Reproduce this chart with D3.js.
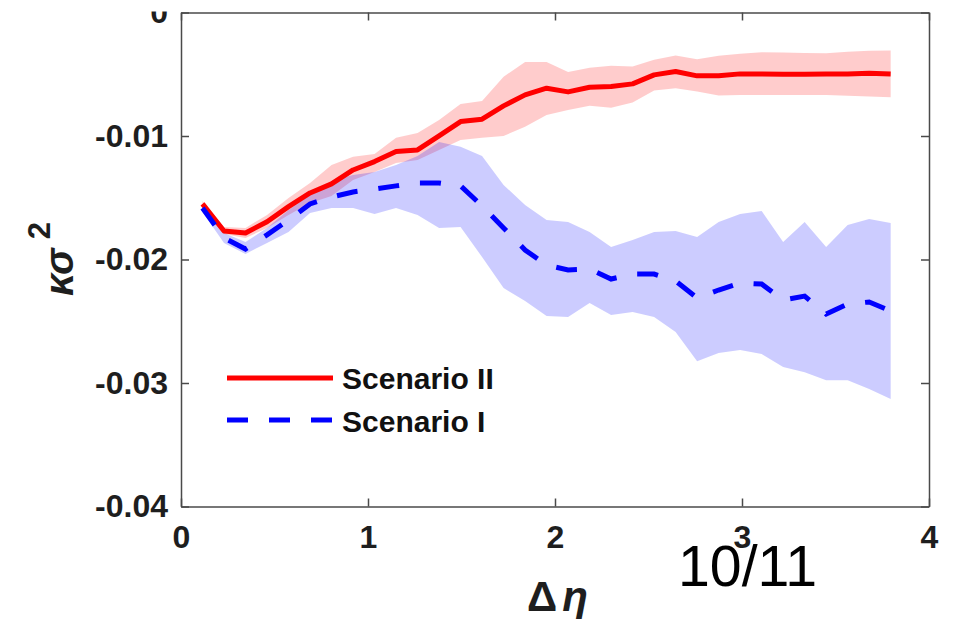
<!DOCTYPE html>
<html>
<head>
<meta charset="utf-8">
<script src="https://cdn.jsdelivr.net/npm/d3@7"></script>
<style>
  body { margin: 0; background: #fff; }
  svg { display: block; font-family: "Liberation Sans", Arial, sans-serif; }
</style>
</head>
<body>
<div id="chart"></div>
<script>
let w = 955;
let h = 619;

// delta eta values
const dEta = [0.115, 0.23, 0.345, 0.46, 0.575, 0.69, 0.805, 0.92, 1.035, 1.15, 1.265,
  1.38, 1.495, 1.61, 1.725, 1.84, 1.955, 2.07, 2.185, 2.3, 2.415, 2.53, 2.645,
  2.76, 2.875, 2.99, 3.105, 3.22, 3.335, 3.45, 3.565, 3.68, 3.795];

// Scenario II (red)
const s2Mean = [-0.01550, -0.01769, -0.01785, -0.01694, -0.01572, -0.01461, -0.01388, -0.01275,
  -0.01207, -0.01126, -0.01113, -0.00999, -0.00883, -0.00864, -0.00756, -0.00667, -0.00613,
  -0.00643, -0.00605, -0.00600, -0.00578, -0.00505, -0.00478, -0.00513, -0.00513, -0.00497,
  -0.00497, -0.00499, -0.00499, -0.00497, -0.00497, -0.00491, -0.00497];
const s2Upper = [-0.01526, -0.01737, -0.01745, -0.01639, -0.01502, -0.01380, -0.01234, -0.01169,
  -0.01145, -0.01015, -0.00975, -0.00870, -0.00740, -0.00716, -0.00520, -0.00400, -0.00400,
  -0.00481, -0.00448, -0.00432, -0.00438, -0.00383, -0.00348, -0.00378, -0.00351, -0.00335,
  -0.00321, -0.00324, -0.00327, -0.00329, -0.00318, -0.00310, -0.00308];
const s2Lower = [-0.01575, -0.01793, -0.01826, -0.01745, -0.01639, -0.01542, -0.01485, -0.01356,
  -0.01291, -0.01218, -0.01194, -0.01113, -0.01032, -0.01015, -0.00999, -0.00926, -0.00829,
  -0.00789, -0.00756, -0.00772, -0.00729, -0.00632, -0.00613, -0.00640, -0.00673, -0.00667,
  -0.00667, -0.00667, -0.00667, -0.00667, -0.00675, -0.00681, -0.00686];

// Scenario I (blue)
const s1Mean = [-0.01583, -0.01826, -0.01915, -0.01801, -0.01680, -0.01550, -0.01494, -0.01453,
  -0.01429, -0.01404, -0.01380, -0.01380, -0.01404, -0.01566, -0.01745, -0.01923, -0.02045,
  -0.02085, -0.02077, -0.02158, -0.02118, -0.02118, -0.02174, -0.02312, -0.02247, -0.02190,
  -0.02199, -0.02328, -0.02296, -0.02442, -0.02361, -0.02344, -0.02417];
const s1Upper = [-0.01550, -0.01785, -0.01858, -0.01745, -0.01599, -0.01477, -0.01364, -0.01315,
  -0.01291, -0.01234, -0.01161, -0.01048, -0.01088, -0.01161, -0.01396, -0.01558, -0.01680,
  -0.01696, -0.01777, -0.01898, -0.01842, -0.01777, -0.01769, -0.01818, -0.01696, -0.01631,
  -0.01607, -0.01858, -0.01696, -0.01898, -0.01720, -0.01672, -0.01704];
const s1Lower = [-0.01615, -0.01866, -0.01955, -0.01866, -0.01777, -0.01623, -0.01583, -0.01583,
  -0.01631, -0.01583, -0.01639, -0.01745, -0.01737, -0.01980, -0.02231, -0.02336, -0.02458,
  -0.02466, -0.02353, -0.02450, -0.02425, -0.02466, -0.02588, -0.02823, -0.02758, -0.02733,
  -0.02766, -0.02871, -0.02912, -0.02977, -0.02977, -0.03049, -0.03130];

const xTicks = [0, 1, 2, 3, 4];
const yTicks = [-0.04, -0.03, -0.02, -0.01, 0];
const yTickLabels = ["-0.04", "-0.03", "-0.02", "-0.01", "0"];
const legendNames = ["Scenario II", "Scenario I"];

const svg = d3.select("#chart")
  .append("svg")
  .attr("width", w)
  .attr("height", h);

const xScale = d3.scaleLinear().domain([0, 4]).range([181, 929]);
const yScale = d3.scaleLinear().domain([-0.04, 0]).range([506.5, 12.5]);

const idx = d3.range(dEta.length);

const band = (up, lo) => d3.area()
  .x(i => xScale(dEta[i]))
  .y0(i => yScale(lo[i]))
  .y1(i => yScale(up[i]));

const line = (m) => d3.line()
  .x(i => xScale(dEta[i]))
  .y(i => yScale(m[i]));

// bands
svg.append("path")
  .datum(idx)
  .attr("d", band(s2Upper, s2Lower))
  .attr("fill", "#ff0000")
  .attr("fill-opacity", 0.2);

svg.append("path")
  .datum(idx)
  .attr("d", band(s1Upper, s1Lower))
  .attr("fill", "#0000ff")
  .attr("fill-opacity", 0.2);

// lines
svg.append("path")
  .datum(idx)
  .attr("d", line(s2Mean))
  .attr("fill", "none")
  .attr("stroke", "#ff0000")
  .attr("stroke-width", 5)
  .attr("stroke-linejoin", "round");

svg.append("path")
  .datum(idx)
  .attr("d", line(s1Mean))
  .attr("fill", "none")
  .attr("stroke", "#0000ff")
  .attr("stroke-width", 5)
  .attr("stroke-dasharray", "21,21");

// axes
const styleAxis = g => {
  g.select(".domain").attr("stroke", "#4a4a4a").attr("stroke-width", 1.5);
  g.selectAll(".tick line").attr("stroke", "#4a4a4a").attr("stroke-width", 1.5);
  g.selectAll(".tick text")
    .attr("fill", "#1e1e1e")
    .attr("font-size", 32)
    .attr("font-weight", "bold")
    .attr("font-family", "Liberation Sans, Arial, sans-serif");
};

svg.append("g")
  .attr("transform", "translate(0,506.5)")
  .call(d3.axisBottom(xScale).tickValues(xTicks).tickSize(-8).tickSizeOuter(0)
    .tickPadding(19).tickFormat(d3.format("d")))
  .call(styleAxis);

svg.append("g")
  .attr("transform", "translate(0,12.5)")
  .call(d3.axisTop(xScale).tickValues(xTicks).tickSize(-8).tickSizeOuter(0).tickFormat(""))
  .call(styleAxis);

svg.append("g")
  .attr("transform", "translate(181,0)")
  .call(d3.axisLeft(yScale).tickValues(yTicks).tickSize(-8).tickSizeOuter(0)
    .tickPadding(13).tickFormat((d, i) => yTickLabels[i]))
  .call(styleAxis);

svg.append("g")
  .attr("transform", "translate(929,0)")
  .call(d3.axisRight(yScale).tickValues(yTicks).tickSize(-8).tickSizeOuter(0).tickFormat(""))
  .call(styleAxis);

// top strip of the picture is cut off
svg.append("rect")
  .attr("x", 0).attr("y", 0)
  .attr("width", 178).attr("height", 11.5)
  .attr("fill", "#fff");

// legend
const legend = svg.append("g");
legend.append("line")
  .attr("x1", 227).attr("x2", 333).attr("y1", 378).attr("y2", 378)
  .attr("stroke", "#ff0000").attr("stroke-width", 5);
legend.append("line")
  .attr("x1", 227).attr("x2", 333).attr("y1", 420).attr("y2", 420)
  .attr("stroke", "#0000ff").attr("stroke-width", 5)
  .attr("stroke-dasharray", "21,21");
legend.selectAll("text")
  .data(legendNames)
  .enter()
  .append("text")
  .attr("x", 342)
  .attr("y", (d, i) => 389 + i * 43)
  .attr("font-size", 30)
  .attr("font-weight", "bold")
  .attr("fill", "#111")
  .text(d => d);

// y label
const yl = svg.append("text")
  .attr("transform", "translate(73,296) rotate(-90)")
  .attr("font-size", 40)
  .attr("font-weight", "bold")
  .attr("font-style", "italic")
  .attr("fill", "#1e1e1e");
yl.append("tspan").text("κσ");
yl.append("tspan")
  .attr("dx", 9).attr("dy", -23)
  .attr("font-size", 31)
  .attr("font-style", "normal")
  .text("2");

// x label
const xl = svg.append("text")
  .attr("x", 527).attr("y", 611)
  .attr("font-size", 42)
  .attr("font-weight", "bold")
  .attr("fill", "#1e1e1e");
xl.append("tspan").text("Δ");
xl.append("tspan").attr("dx", 5).attr("font-style", "italic").text("η");

// page number
svg.append("text")
  .attr("x", 678).attr("y", 586)
  .attr("font-size", 58)
  .attr("textLength", 139)
  .attr("lengthAdjust", "spacingAndGlyphs")
  .attr("fill", "#000")
  .text("10/11");
</script>
</body>
</html>
